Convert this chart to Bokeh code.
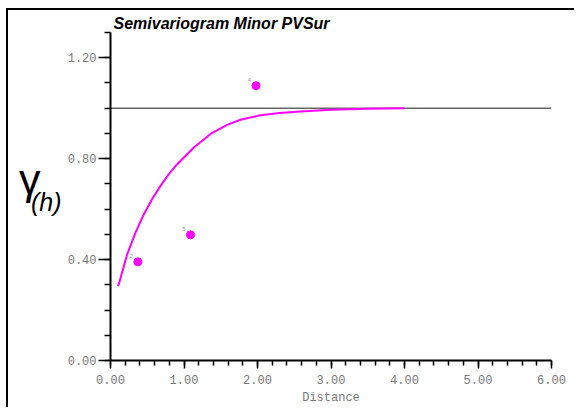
from bokeh.plotting import figure
from bokeh.models import (FixedTicker, ColumnDataSource, Range1d, LinearAxis,
                          PrintfTickFormatter)
from bokeh.core.properties import value
from bokeh.embed import file_html
from bokeh.resources import INLINE

# ---- data ----
title_text = "Semivariogram Minor PVSur"
x_label = "Distance"
sill = 1.0
model_h = [0.10, 0.113, 0.227, 0.340, 0.454, 0.567, 0.680, 0.794, 0.907, 1.134,
           1.361, 1.587, 1.769, 2.04, 2.30, 2.585, 3.00, 3.50, 4.00]
model_g = [0.295, 0.302, 0.421, 0.507, 0.580, 0.640, 0.692, 0.739, 0.778, 0.844,
           0.898, 0.934, 0.954, 0.972, 0.981, 0.987, 0.994, 0.998, 1.00]
exp_h = [0.372, 1.088, 1.98]
exp_g = [0.391, 0.498, 1.089]
exp_pairs = ["2", "5", "4"]
x_major = [0, 1, 2, 3, 4, 5, 6]
x_minor = [i / 5 for i in range(31)]
y_major = [0.0, 0.4, 0.8, 1.2]
y_minor = [i / 10 for i in range(14)]

p = figure(width=568, height=399, output_backend="svg", toolbar_location=None,
           x_range=Range1d(0, 6), y_range=Range1d(0, 1.30),
           min_border_left=102, min_border_right=25, min_border_top=22,
           min_border_bottom=49, background_fill_color="white",
           border_fill_color="white", outline_line_color=None)
p.margin = (10, 0, 0, 8)
p.stylesheets = [":host { box-shadow: -2px -2px 0 0 black; }"]
p.grid.visible = False

mono = "Liberation Mono"
sans = "Liberation Sans"
for ax in (p.xaxis[0], p.yaxis[0]):
    ax.axis_line_color = "black"
    ax.axis_line_width = 2
    ax.major_tick_line_color = "black"
    ax.minor_tick_line_color = "black"
    ax.major_tick_line_width = 1.5
    ax.minor_tick_line_width = 1.5
    ax.major_tick_in = 0
    ax.minor_tick_in = 0
    ax.major_label_text_font = mono
    ax.major_label_text_font_size = "12px"
    ax.major_label_text_color = "#777777"
    ax.formatter = PrintfTickFormatter(format="%.2f")

p.xaxis.ticker = FixedTicker(ticks=x_major, minor_ticks=x_minor)
p.yaxis.ticker = FixedTicker(ticks=y_major, minor_ticks=y_minor)
p.xaxis.major_tick_out = 8
p.xaxis.minor_tick_out = 5
p.yaxis.major_tick_out = 12
p.yaxis.minor_tick_out = 6
p.yaxis.major_label_standoff = 2
p.xaxis.major_label_standoff = 6
p.xaxis.axis_label = x_label
p.xaxis.axis_label_text_font = mono
p.xaxis.axis_label_text_font_size = "12px"
p.xaxis.axis_label_text_font_style = "normal"
p.xaxis.axis_label_text_color = "#777777"
p.xaxis.axis_label_standoff = 4

# y-axis label gamma(h) built from two label-only axes
def label_axis(text, size, style, standoff, line_height):
    a = LinearAxis(ticker=FixedTicker(ticks=[]),
                   axis_line_color=None, major_tick_out=0, minor_tick_out=0,
                   major_tick_in=0, minor_tick_in=0, major_label_standoff=0,
                   axis_label=text, axis_label_text_font=sans,
                   axis_label_text_font_size=size, axis_label_text_font_style=style,
                   axis_label_text_color="black", axis_label_orientation="horizontal",
                   axis_label_standoff=standoff, axis_label_text_line_height=line_height)
    p.add_layout(a, "left")
    return a

label_axis(" \n(h)", "25px", "italic", 3, 0.4)
label_axis("γ\n ", "43px", "normal", -13, 0.72)

# title
p.title.text = title_text
p.title.text_font = sans
p.title.text_font_size = "16px"
p.title.text_font_style = "bold italic"
p.title.text_color = "black"
p.title.align = "left"
p.title.offset = 3
p.title.standoff = 2

# sill line
p.line([0, 6], [sill, sill], line_color="#666666", line_width=1.5)
# model curve
p.line(model_h, model_g, line_color="#ff00ff", line_width=2)
# experimental points
src = ColumnDataSource(dict(h=exp_h, g=exp_g, n=exp_pairs))
p.scatter("h", "g", source=src, size=8, color="#ff00ff")
p.text("h", "g", text="n", source=src, x_offset=-5, y_offset=-4,
       text_font_size="6px", text_color="#999999", text_align="right",
       text_baseline="bottom", text_font=value(sans))

open("out.html", "w").write(file_html(p, INLINE))
